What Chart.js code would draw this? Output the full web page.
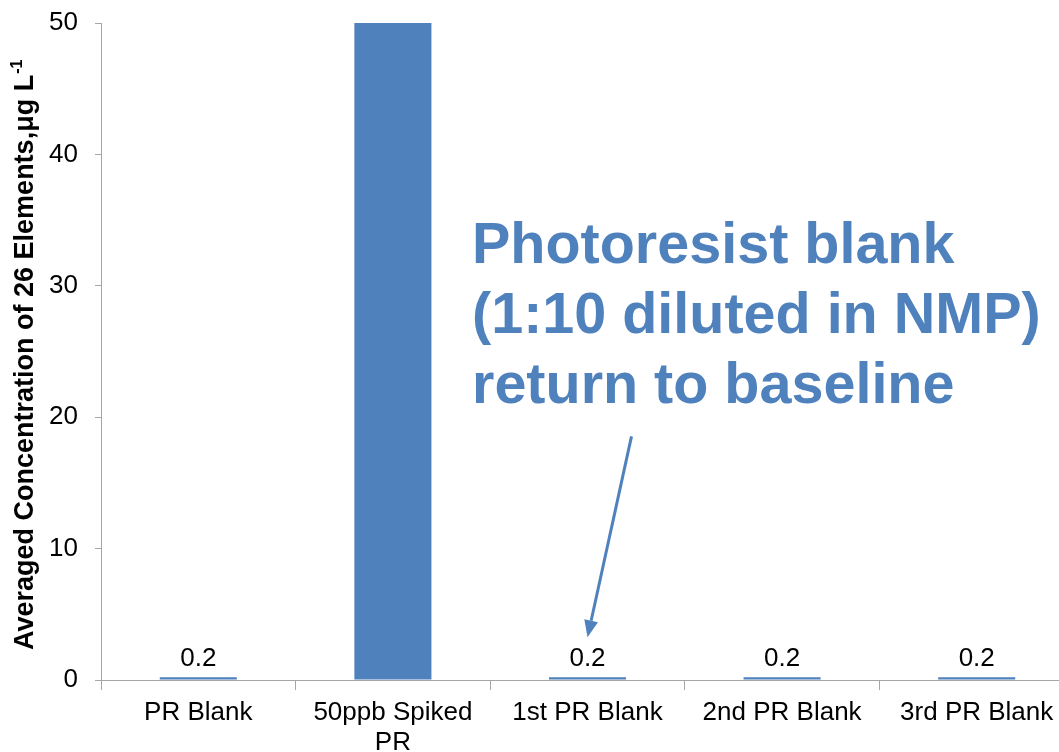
<!DOCTYPE html>
<html>
<head>
<meta charset="utf-8">
<script src="https://cdn.jsdelivr.net/npm/chart.js@4/dist/chart.umd.min.js"></script>
<style>
  html, body { margin: 0; padding: 0; background: #ffffff; overflow: hidden; }
  #wrap { position: relative; width: 1080px; height: 752px; }
</style>
</head>
<body>
<div id="wrap"><canvas id="chart"></canvas></div>
<script>
// Sample categories (multi-line labels are arrays)
const categories = ['PR Blank', ['50ppb Spiked', 'PR'], '1st PR Blank', '2nd PR Blank', '3rd PR Blank'];
// Averaged concentration of 26 elements, µg/L
const concentrations = [0.2, 50, 0.2, 0.2, 0.2];
// Value axis ticks
const yTicks = [0, 10, 20, 30, 40, 50];

const yTitle = 'Averaged Concentration of 26 Elements,\u03bcg L';
const yTitleSup = '-1';
const noteLines = ['Photoresist blank', '(1:10 diluted in NMP)', 'return to baseline'];
const noteTarget = 2; // the note's arrow points at "1st PR Blank"

const BLUE = '#4F81BD';
const AXIS = '#a6a6a6';
const FONT = '"Liberation Sans", Arial, sans-serif';

// Value labels above each bar (skipped when they would fall above the plot)
const valueLabels = {
  id: 'valueLabels',
  afterDatasetsDraw(chart) {
    const { ctx, chartArea } = chart;
    const meta = chart.getDatasetMeta(0);
    ctx.save();
    ctx.font = '26px ' + FONT;
    ctx.fillStyle = '#000';
    ctx.textAlign = 'center';
    ctx.textBaseline = 'alphabetic';
    meta.data.forEach((bar, i) => {
      const y = bar.y - 11;
      if (y - 20 < chartArea.top) return;
      ctx.fillText(String(concentrations[i]), bar.x, y);
    });
    ctx.restore();
  }
};

// Rotated value-axis title with a superscript exponent
const axisTitle = {
  id: 'axisTitle',
  afterDraw(chart) {
    const { ctx } = chart;
    ctx.save();
    ctx.translate(33, 650);
    ctx.rotate(-Math.PI / 2);
    ctx.fillStyle = '#000';
    ctx.textAlign = 'left';
    ctx.textBaseline = 'alphabetic';
    ctx.font = 'bold 27px ' + FONT;
    ctx.fillText(yTitle, 0, 0);
    const w = ctx.measureText(yTitle).width;
    ctx.font = 'bold 16px ' + FONT;
    ctx.fillText(yTitleSup, w + 1, -11);
    ctx.restore();
  }
};

// Blue callout text with an arrow down to the target bar's label
const callout = {
  id: 'callout',
  afterDraw(chart) {
    const { ctx, scales } = chart;
    ctx.save();
    ctx.fillStyle = BLUE;
    ctx.font = 'bold 57.5px ' + FONT;
    ctx.textAlign = 'left';
    ctx.textBaseline = 'alphabetic';
    noteLines.forEach((t, i) => ctx.fillText(t, 472, 263 + i * 70));

    const tipX = scales.x.getPixelForValue(noteTarget);
    const tipY = scales.y.getPixelForValue(concentrations[noteTarget]) - 40;
    const startX = tipX + 44, startY = tipY - 201;
    const ang = Math.atan2(tipY - startY, tipX - startX);
    const headLen = 17, headHalf = 7;
    const baseX = tipX - headLen * Math.cos(ang), baseY = tipY - headLen * Math.sin(ang);
    ctx.strokeStyle = BLUE;
    ctx.lineWidth = 3;
    ctx.beginPath();
    ctx.moveTo(startX, startY);
    ctx.lineTo(baseX, baseY);
    ctx.stroke();
    ctx.beginPath();
    ctx.moveTo(tipX, tipY);
    ctx.lineTo(baseX + headHalf * Math.sin(ang), baseY - headHalf * Math.cos(ang));
    ctx.lineTo(baseX - headHalf * Math.sin(ang), baseY + headHalf * Math.cos(ang));
    ctx.closePath();
    ctx.fill();
    ctx.restore();
  }
};

new Chart(document.getElementById('chart'), {
  type: 'bar',
  data: {
    labels: categories,
    datasets: [{
      data: concentrations,
      backgroundColor: BLUE,
      borderWidth: 0,
      barPercentage: 0.396,
      categoryPercentage: 1.0
    }]
  },
  options: {
    responsive: true,
    maintainAspectRatio: false,
    animation: false,
    devicePixelRatio: 1,
    layout: { padding: { left: 0, top: 23, right: 6, bottom: 0 } },
    plugins: { legend: { display: false }, tooltip: { enabled: false } },
    scales: {
      x: {
        afterFit(scale) { scale.height = 72; },
        grid: { display: true, drawOnChartArea: false, drawTicks: true, tickLength: 10, color: AXIS, offset: true },
        border: { display: true, color: AXIS, width: 1 },
        ticks: {
          color: '#000',
          font: { family: FONT, size: 26, lineHeight: 1.15 },
          padding: 8,
          maxRotation: 0,
          autoSkip: false
        }
      },
      y: {
        min: 0,
        max: 50,
        afterFit(scale) {
          scale.width = 101;
          scale.paddingTop = 0;
          scale.paddingBottom = 0;
        },
        afterBuildTicks(scale) { scale.ticks = yTicks.map(v => ({ value: v })); },
        grid: { display: true, drawOnChartArea: false, drawTicks: true, tickLength: 6, color: AXIS },
        border: { display: true, color: AXIS, width: 1 },
        ticks: {
          color: '#000',
          font: { family: FONT, size: 26 },
          padding: 17
        }
      }
    }
  },
  plugins: [valueLabels, axisTitle, callout]
});
</script>
</body>
</html>
